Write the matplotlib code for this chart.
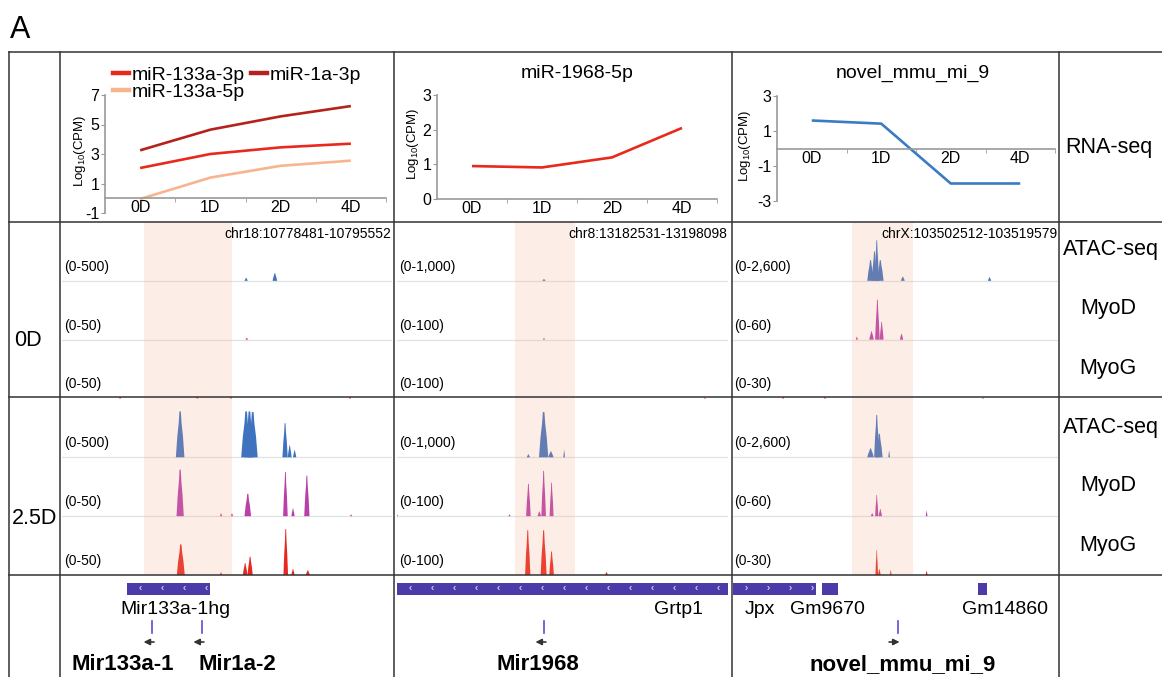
import numpy as np
import matplotlib.pyplot as plt
from matplotlib.lines import Line2D

plt.rcParams['font.family'] = ['Liberation Sans', 'DejaVu Sans']
plt.rcParams['mathtext.default'] = 'regular'
plt.rcParams['axes.unicode_minus'] = False

# RNA-seq expression, log10(CPM)
days = ['0D', '1D', '2D', '4D']
mir133a_3p = [2.05, 3.0, 3.45, 3.7]
mir1a_3p = [3.25, 4.65, 5.55, 6.25]
mir133a_5p = [-0.05, 1.4, 2.2, 2.55]
mir1968_5p = [0.95, 0.91, 1.2, 2.05]
novel_mmu_mi_9 = [1.6, 1.42, -2.0, -2.0]

# genome browser tracks
loci = ['chr18:10778481-10795552', 'chr8:13182531-13198098', 'chrX:103502512-103519579']
track_names = ['ATAC-seq', 'MyoD', 'MyoG']
track_ranges = [['(0-500)', '(0-50)', '(0-50)'],
                ['(0-1,000)', '(0-100)', '(0-100)'],
                ['(0-2,600)', '(0-60)', '(0-30)']]
highlights = [(0.248, 0.515), (0.356, 0.538), (0.368, 0.555)]

# peaks per track: (position in locus 0-1, height as fraction of track range, width)
# order: 0D ATAC, 0D MyoD, 0D MyoG, 2.5D ATAC, 2.5D MyoD, 2.5D MyoG
peaks_mir133 = [
    [(0.558, 0.05, 0.01), (0.645, 0.13, 0.014)],
    [(0.56, 0.03, 0.008)],
    [(0.176, 0.03, 0.006), (0.41, 0.03, 0.006), (0.512, 0.03, 0.006), (0.873, 0.03, 0.006)],
    [(0.358, 0.78, 0.026), (0.558, 0.78, 0.03), (0.568, 0.78, 0.03), (0.578, 0.77, 0.03),
     (0.676, 0.58, 0.016), (0.69, 0.2, 0.012), (0.705, 0.12, 0.01)],
    [(0.358, 0.79, 0.022), (0.482, 0.05, 0.006), (0.515, 0.05, 0.006), (0.563, 0.38, 0.02),
     (0.677, 0.75, 0.014), (0.7, 0.13, 0.01), (0.742, 0.69, 0.016), (0.876, 0.03, 0.006)],
    [(0.36, 0.52, 0.024), (0.482, 0.05, 0.006), (0.555, 0.2, 0.014), (0.57, 0.31, 0.016),
     (0.678, 0.78, 0.014), (0.7, 0.1, 0.01), (0.745, 0.08, 0.012)],
]
peaks_mir1968 = [
    [(0.444, 0.03, 0.01)],
    [(0.444, 0.03, 0.006)],
    [(0.93, 0.02, 0.006)],
    [(0.397, 0.05, 0.01), (0.443, 0.77, 0.028), (0.465, 0.1, 0.016), (0.505, 0.12, 0.005)],
    [(0.0, 0.03, 0.006), (0.34, 0.03, 0.006), (0.397, 0.55, 0.014), (0.43, 0.08, 0.01),
     (0.443, 0.77, 0.014), (0.467, 0.57, 0.012)],
    [(0.395, 0.76, 0.016), (0.443, 0.76, 0.018), (0.467, 0.4, 0.014), (0.633, 0.05, 0.008)],
]
peaks_novel = [
    [(0.425, 0.35, 0.02), (0.437, 0.5, 0.016), (0.444, 0.69, 0.014), (0.455, 0.35, 0.02),
     (0.524, 0.07, 0.012), (0.79, 0.06, 0.01)],
    [(0.383, 0.05, 0.006), (0.428, 0.14, 0.014), (0.446, 0.68, 0.014), (0.459, 0.3, 0.012),
     (0.52, 0.1, 0.01)],
    [(0.157, 0.03, 0.006), (0.285, 0.03, 0.006), (0.77, 0.02, 0.006)],
    [(0.425, 0.15, 0.02), (0.444, 0.72, 0.016), (0.452, 0.4, 0.02), (0.482, 0.11, 0.005)],
    [(0.43, 0.05, 0.008), (0.444, 0.36, 0.01), (0.455, 0.12, 0.01), (0.597, 0.09, 0.005)],
    [(0.444, 0.42, 0.008), (0.452, 0.1, 0.008), (0.487, 0.08, 0.005), (0.597, 0.07, 0.006)],
]
all_peaks = [peaks_mir133, peaks_mir1968, peaks_novel]

# gene annotation
gene_names = [['Mir133a-1hg'], ['Grtp1'], ['Jpx', 'Gm9670', 'Gm14860']]
gene_starts = [[0.196], [0.0], [0.003, 0.276, 0.755]]
gene_ends = [[0.449], [1.0], [0.258, 0.325, 0.782]]
gene_strands = [['-'], ['-'], ['+', '+', '+']]
gene_label_pos = [[0.345], [0.849], [0.086, 0.294, 0.837]]
mirna_names = [['Mir133a-1', 'Mir1a-2'], ['Mir1968'], ['novel_mmu_mi_9']]
mirna_pos = [[0.273, 0.424], [0.444], [0.508]]
mirna_strands = [['-', '-'], ['-'], ['+']]
mirna_label_pos = [[0.183, 0.53], [0.426], [0.525]]

W, H = 1162, 677
fig = plt.figure(figsize=(W / 100, H / 100), dpi=100)


def px_axes(x0, y0, x1, y1, **kw):
    return fig.add_axes([x0 / W, 1 - y1 / H, (x1 - x0) / W, (y1 - y0) / H], **kw)


def line_panel(box, ylim, yticks, series, colors, label_x):
    ax = px_axes(*box)
    ax.set_facecolor('none')
    x = np.arange(len(days))
    for vals, c in zip(series, colors):
        ax.plot(x, vals, color=c, lw=1.9, solid_capstyle='butt')
    ax.set_xlim(-0.5, 3.5)
    ax.set_ylim(*ylim)
    ax.set_yticks(yticks)
    ax.set_xticks(x)
    ax.set_xticklabels(days)
    ax.set_xticks([0.5, 1.5, 2.5, 3.5], minor=True)
    for s in ['top', 'right']:
        ax.spines[s].set_visible(False)
    ax.spines['bottom'].set_position(('data', 0))
    for s in ['left', 'bottom']:
        ax.spines[s].set_color('#9a9a9a')
        ax.spines[s].set_linewidth(1.2)
    ax.tick_params(axis='x', which='major', length=0, pad=1.5, labelsize=11.5)
    ax.tick_params(axis='x', which='minor', length=3, color='#9a9a9a')
    ax.tick_params(axis='y', length=3, color='#9a9a9a', pad=1, labelsize=11.5)
    ax.set_ylabel(r'Log$_{10}$(CPM)', fontsize=9.5)
    ax.yaxis.set_label_coords(label_x, 0.53)
    return ax


# RNA-seq panels
ax1 = line_panel((105, 95, 386, 213), (-1, 7), [-1, 1, 3, 5, 7],
                 [mir133a_3p, mir1a_3p, mir133a_5p],
                 ['#E8291C', '#B5211B', '#F8B58D'], -0.062)
handles = [Line2D([], [], color='#E8291C', lw=3.2),
           Line2D([], [], color='#F8B58D', lw=3.2),
           Line2D([], [], color='#B5211B', lw=3.2)]
ax1.legend(handles, ['miR-133a-3p', 'miR-133a-5p', 'miR-1a-3p'], ncol=2, frameon=False,
           fontsize=14, handlelength=0.8, handletextpad=0.15, columnspacing=0.35,
           labelspacing=0.0, borderpad=0, borderaxespad=0,
           loc='upper left', bbox_to_anchor=(113 / W, 1 - 66 / H),
           bbox_transform=fig.transFigure)

ax2 = line_panel((437, 95, 717, 199), (0, 3), [0, 1, 2, 3], [mir1968_5p], ['#E8291C'], -0.058)
fig.text(577 / W, 1 - 73 / H, 'miR-1968-5p', fontsize=14, ha='center', va='center')

ax3 = line_panel((777, 96, 1055, 201), (-3, 3), [-3, -1, 1, 3], [novel_mmu_mi_9], ['#3A7CC4'], -0.086)
fig.text(913 / W, 1 - 73 / H, 'novel_mmu_mi_9', fontsize=14, ha='center', va='center')

# genome browser tracks
col_bounds = [(62, 392), (397, 728), (732, 1058)]
track_colors = ['#3F72BF', '#B940A8', '#E8281E']
for c, (x0, x1) in enumerate(col_bounds):
    ax = px_axes(x0, 222, x1, 575)
    ax.set_xlim(0, 1)
    ax.set_ylim(0, 6)
    ax.axis('off')
    for k in range(6):
        base = 5 - k
        if k % 3 != 2:
            ax.axhline(base, color='#e2e2e2', lw=0.9, zorder=0)
        for p, h, w in all_peaks[c][k]:
            xs = [p - w / 2, p - w / 3, p - w / 6, p - w / 12, p + w / 12, p + w / 6, p + w / 3, p + w / 2]
            ys = [0, 0.45 * h, 0.75 * h, h, h, 0.75 * h, 0.45 * h, 0]
            ax.fill(xs, [base + y for y in ys], color=track_colors[k % 3], lw=0, zorder=2)
        ax.text(0.006, base + 0.24, track_ranges[c][k % 3], fontsize=10, va='center', ha='left')
    ax.axvspan(*highlights[c], color='#F7A98A', alpha=0.2, lw=0, zorder=5)
    ax.text(0.998, 5.79, loci[c], fontsize=10, ha='right', va='center', zorder=6)

    # gene annotation row
    gx = px_axes(x0, 575, x1, 677)
    gx.set_xlim(0, 1)
    gx.set_ylim(677, 575)
    gx.axis('off')
    xw = x1 - x0
    for name, s, e, strand, lp in zip(gene_names[c], gene_starts[c], gene_ends[c],
                                      gene_strands[c], gene_label_pos[c]):
        gx.fill_between([s, e], 582.5, 595, color='#4B3BA8', lw=0)
        chev = '\u2039' if strand == '-' else '\u203a'
        step = 22 / xw
        if e - s > step:
            for cx in np.arange(s + step * 0.6, e, step):
                gx.text(cx, 588.5, chev, color='white', fontsize=7, ha='center', va='center')
        gx.text(lp, 609, name, fontsize=14, ha='center', va='center')
    for name, p, strand, lp in zip(mirna_names[c], mirna_pos[c], mirna_strands[c],
                                   mirna_label_pos[c]):
        gx.plot([p, p], [621, 633], color='#5A4FCF', lw=1.2)
        dx = 8 / xw
        sgn = -1 if strand == '-' else 1
        gx.annotate('', xy=(p + sgn * dx - 0.01, 642), xytext=(p - sgn * dx - 0.01, 642),
                    arrowprops=dict(arrowstyle='-|>', color='#333333', lw=1.2,
                                    mutation_scale=9))
        gx.text(lp, 665, name, fontsize=16, fontweight='bold', ha='center', va='center')

# labels
fig.text(10 / W, 1 - 30 / H, 'A', fontsize=22, va='center', ha='left')
fig.text(1065 / W, 1 - 147 / H, 'RNA-seq', fontsize=15.5, va='center', ha='left')
fig.text(14 / W, 1 - 340 / H, '0D', fontsize=15.5, va='center', ha='left')
fig.text(12 / W, 1 - 518 / H, '2.5D', fontsize=15.5, va='center', ha='left')
for row_y in [(249, 308, 368), (428, 485, 546)]:
    fig.text(1063 / W, 1 - row_y[0] / H, track_names[0], fontsize=15.5, va='center', ha='left')
    fig.text(1108 / W, 1 - row_y[1] / H, track_names[1], fontsize=15.5, va='center', ha='center')
    fig.text(1108 / W, 1 - row_y[2] / H, track_names[2], fontsize=15.5, va='center', ha='center')

# table grid
grid = fig.add_axes([0, 0, 1, 1], zorder=10)
grid.set_xlim(0, W)
grid.set_ylim(H, 0)
grid.axis('off')
grid.patch.set_alpha(0)
for y in [52, 222, 397, 575]:
    grid.plot([9, W], [y, y], color='#333333', lw=1.1)
for x in [9, 60, 394, 731.5, 1059]:
    grid.plot([x, x], [52, H], color='#333333', lw=1.1)

fig.savefig('out.png', dpi=100)
